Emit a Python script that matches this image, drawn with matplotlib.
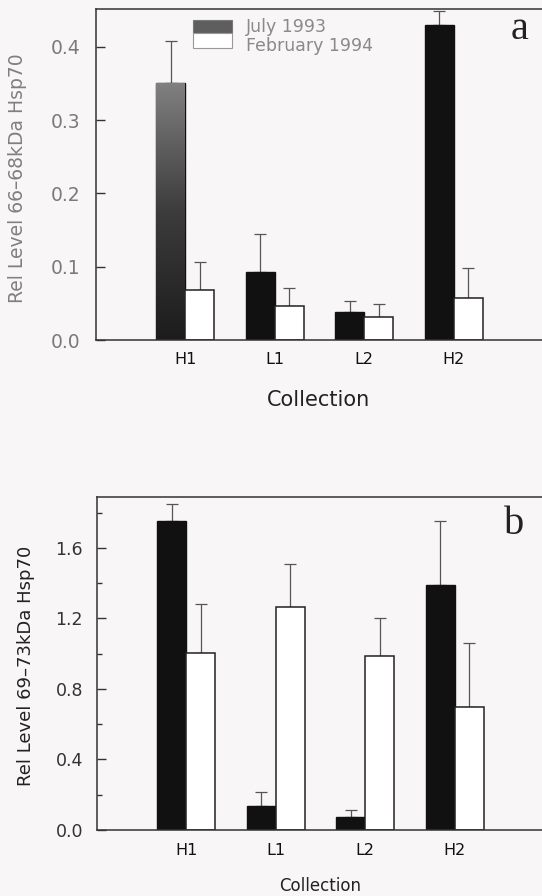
import numpy as np
import matplotlib
matplotlib.use("Agg")
import matplotlib.pyplot as plt
from matplotlib.patches import Rectangle
from matplotlib.ticker import MultipleLocator

# ---- data ----
collections = ['H1', 'L1', 'L2', 'H2']
series_labels = ['July 1993', 'February 1994']

a_july = [0.350, 0.093, 0.038, 0.429]
a_july_err = [0.058, 0.051, 0.015, 0.020]
a_feb = [0.068, 0.046, 0.032, 0.057]
a_feb_err = [0.039, 0.025, 0.017, 0.041]

b_july = [1.75, 0.138, 0.075, 1.39]
b_july_err = [0.10, 0.076, 0.038, 0.365]
b_feb = [1.006, 1.262, 0.987, 0.696]
b_feb_err = [0.277, 0.246, 0.213, 0.364]

BG = '#f8f6f6'
W, H = 542, 896
fig = plt.figure(figsize=(W / 100, H / 100), dpi=100, facecolor=BG)
plt.rcParams['font.family'] = ['DejaVu Sans']

def px_axes(left, top, right, bottom):
    return fig.add_axes([left / W, 1 - bottom / H, (right - left) / W, (bottom - top) / H])

axA = px_axes(96, 9.3, 543, 340)
axB = px_axes(97, 496.7, 544, 830)

x = np.arange(1, len(collections) + 1)
bw = 0.324

def draw(ax, july, july_err, feb, feb_err, ylim, tick_color, tick_size, pad, gradient_first=False):
    ax.set_facecolor(BG)
    bars_j = ax.bar(x - bw, july, width=bw, align='edge', color='#111111',
                    edgecolor='#111111', linewidth=1.0, zorder=2)
    bars_f = ax.bar(x, feb, width=bw, align='edge', color='white',
                    edgecolor='#222222', linewidth=1.1, zorder=2)
    ax.errorbar(x - bw / 2, july, yerr=[np.zeros(len(july)), july_err], fmt='none',
                ecolor='#555555', elinewidth=0.9, capsize=4, capthick=0.9, zorder=1)
    ax.errorbar(x + bw / 2, feb, yerr=[np.zeros(len(feb)), feb_err], fmt='none',
                ecolor='#555555', elinewidth=0.9, capsize=4, capthick=0.9, zorder=1)
    if gradient_first:
        p = bars_j.patches[0]
        grad = np.linspace(0, 1, 256).reshape(-1, 1)
        im = ax.imshow(grad, cmap=matplotlib.colors.LinearSegmentedColormap.from_list(
            'g', ['#1c1c1c', '#3c3c3c', '#808080']), aspect='auto',
            extent=(p.get_x(), p.get_x() + p.get_width(), 0, p.get_height()),
            origin='lower', zorder=2.5)
        im.set_clip_path(p)
    ax.set_xlim(0, 5)
    ax.set_ylim(*ylim)
    ax.set_xticks(x)
    ax.set_xticklabels(collections)
    ax.tick_params(axis='x', length=0, pad=9, labelsize=11.5, labelcolor='#111111')
    ax.tick_params(axis='y', which='major', direction='in', length=6.5, width=1.0,
                   color='#333333', labelcolor=tick_color, labelsize=tick_size, pad=pad)
    ax.tick_params(axis='y', which='minor', direction='in', length=3.8, width=1.0, color='#333333')
    ax.spines['right'].set_visible(False)
    for s in ['left', 'top', 'bottom']:
        ax.spines[s].set_linewidth(1.1)
        ax.spines[s].set_color('#333333')

draw(axA, a_july, a_july_err, a_feb, a_feb_err, (0, 0.451), '#7a7a7a', 13.5, 11.5, gradient_first=True)
axA.yaxis.set_major_locator(MultipleLocator(0.1))
axA.yaxis.set_major_formatter(matplotlib.ticker.FormatStrFormatter('%.1f'))

draw(axB, b_july, b_july_err, b_feb, b_feb_err, (0, 1.89), '#333333', 12.5, 10)
axB.yaxis.set_major_locator(MultipleLocator(0.4))
axB.yaxis.set_minor_locator(MultipleLocator(0.2))
axB.yaxis.set_major_formatter(matplotlib.ticker.FormatStrFormatter('%.1f'))

# labels
axA.set_ylabel('Rel Level 66\u201368kDa Hsp70', fontsize=13.5, color='#808080')
axA.yaxis.set_label_coords(-0.1745, 0.49)
axA.set_xlabel('Collection', fontsize=15, color='#222222')
axA.xaxis.set_label_coords(0.497, -0.181)
axA.xaxis.label.set_va('center')

axB.set_ylabel('Rel Level 69\u201373kDa Hsp70', fontsize=13, color='#222222')
axB.yaxis.set_label_coords(-0.159, 0.492)
axB.set_xlabel('Collection', fontsize=12, color='#222222')
axB.xaxis.set_label_coords(0.499, -0.168)
axB.xaxis.label.set_va('center')
for ax in (axA, axB):
    ax.yaxis.label.set_va('center')

axA.text(0.9485, 0.940, 'a', transform=axA.transAxes, ha='center', va='center',
         fontsize=29, family='Liberation Serif', color='#222222')
axB.text(0.933, 0.918, 'b', transform=axB.transAxes, ha='center', va='center',
         fontsize=29, family='Liberation Serif', color='#222222')

# legend (panel a)
axA.add_patch(Rectangle((0.217, 0.928), 0.0872, 0.039, transform=axA.transAxes,
                        facecolor='#5e5e5e', edgecolor='#777777', linewidth=0.8, zorder=3))
axA.add_patch(Rectangle((0.217, 0.883), 0.0872, 0.045, transform=axA.transAxes,
                        facecolor='white', edgecolor='#999999', linewidth=0.8, zorder=3))
axA.text(0.3356, 0.945, series_labels[0], transform=axA.transAxes, ha='left', va='center',
         fontsize=12.5, color='#8a8a8a')
axA.text(0.3356, 0.890, series_labels[1], transform=axA.transAxes, ha='left', va='center',
         fontsize=12.5, color='#8a8a8a')

fig.savefig('out.png', dpi=100, facecolor=BG)
